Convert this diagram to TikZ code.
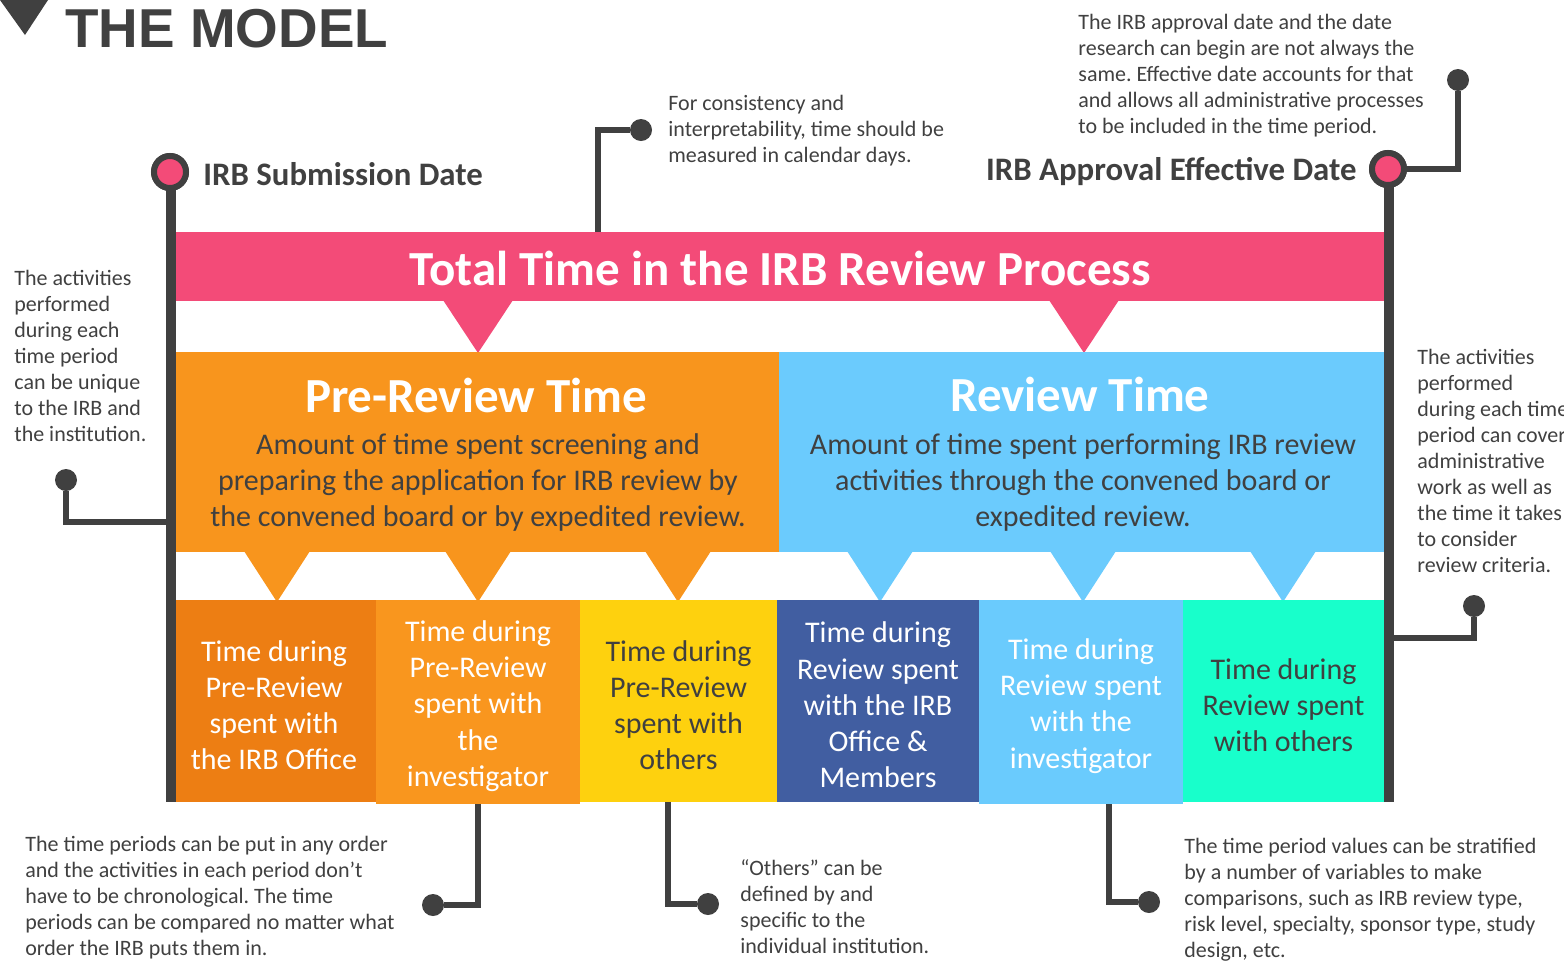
\documentclass[tikz,border=0pt]{standalone}
\usepackage{fontspec}
\setmainfont{Carlito}
\newfontfamily\titlefont{Liberation Sans}
\frenchspacing
\definecolor{dk}{HTML}{404040}
\definecolor{pinkc}{HTML}{F34B78}
\definecolor{orbig}{HTML}{F8951D}
\definecolor{blbig}{HTML}{6BCBFD}
\definecolor{cA}{HTML}{ED7E13}
\definecolor{cB}{HTML}{F9961E}
\definecolor{cC}{HTML}{FED10E}
\definecolor{cD}{HTML}{415EA1}
\definecolor{cE}{HTML}{6ACBFD}
\definecolor{cF}{HTML}{18FFCB}
\begin{document}
\begin{tikzpicture}[x=0.5pt,y=-0.5pt,
  conn/.style={draw=dk, line width=3pt},
  barline/.style={draw=dk, line width=5pt},
  dot/.style={circle, fill=dk, inner sep=0pt, minimum size=11pt},
  pin/.style={circle, draw=dk, line width=3pt, fill=pinkc, inner sep=0pt, minimum size=16pt},
  note/.style={anchor=north west, inner sep=0pt, align=left, text=dk, font=\fontsize{11}{13}\selectfont},
  smallbox/.style={rectangle, inner sep=0pt},
  boxtext/.style={inner sep=0pt, align=center, font=\fontsize{15}{18.1}\selectfont},
  bigbox/.style={rectangle, inner sep=0pt},
  heading/.style={text=white, font=\bfseries\fontsize{24.5}{30}\selectfont, inner sep=0pt},
  desc/.style={text=dk, align=center, inner sep=0pt, font=\fontsize{15}{18}\selectfont},
  datelabel/.style={text=dk, inner sep=0pt, font=\bfseries\fontsize{16.4}{19}\selectfont}
]
\useasboundingbox (0,0) rectangle (1564,960);

% title
\fill[dk] (0,0) -- (48,0) -- (25,35) -- cycle;
\node[anchor=base west, inner sep=0pt, text=dk, font=\titlefont\bfseries\fontsize{27.4}{30}\selectfont] (title) at (65,47) {THE MODEL};

% pins and bars
\node[pin] (pinL) at (170,172) {};
\node[pin] (pinR) at (1388,169) {};
\coordinate (barLend) at (171,802);
\coordinate (barRend) at (1389,802);
\coordinate (pinLs) at (171,172);
\coordinate (pinRs) at (1389,169);
\draw[barline] (pinLs) -- (barLend);
\draw[barline] (pinRs) -- (barRend);

% callout dots
\node[dot] (dotTM) at (641,130) {};
\node[dot] (dotTR) at (1458,80) {};
\node[dot] (dotL) at (66,480) {};
\node[dot] (dotR) at (1474,606) {};
\node[dot] (dotBL) at (433,905) {};
\node[dot] (dotBM) at (708,904) {};
\node[dot] (dotBR) at (1149,902) {};

\coordinate (jTM) at (598,233);
\coordinate (jL) at (171,522);
\coordinate (jR) at (1389,638);
\coordinate (jBL) at (478,802);
\coordinate (jBM) at (668,802);
\coordinate (jBR) at (1109,802);

\draw[conn] (jTM) |- (dotTM);
\draw[conn] (pinR) -| (dotTR);
\draw[conn] (jL) -| (dotL);
\draw[conn] (jR) -| (dotR);
\draw[conn] (jBL) |- (dotBL);
\draw[conn] (jBM) |- (dotBM);
\draw[conn] (jBR) |- (dotBR);
\node[pin] at (pinR) {};
\node[pin] at (pinL) {};

% pink band
\node[bigbox, fill=pinkc, minimum width=604pt, minimum height=34.5pt] (band) at (780,266.5) {};
\node[text=white, font=\bfseries\fontsize{24.5}{28}\selectfont, inner sep=0pt] (bandtxt) at (780,268) {Total Time in the IRB Review Process};
\foreach \cx in {478,1084} {
  \fill[pinkc] (\cx-35,300) -- (\cx+35,300) -- (\cx,353) -- cycle;
}

% big boxes
\node[bigbox, fill=orbig, minimum width=301.5pt, minimum height=100pt] (pre) at (477.5,452) {};
\node[bigbox, fill=blbig, minimum width=302.5pt, minimum height=100pt] (rev) at (1081.5,452) {};
\node[heading] (preh) at (476,395) {Pre-Review Time};
\node[heading] (revh) at (1080,394) {Review Time};
\node[desc] (pred) at (478,482) {Amount of time spent screening and\\preparing the application for IRB review by\\the convened board or by expedited review.};
\node[desc] (revd) at (1083,483) {Amount of time spent performing IRB review\\activities through the convened board or\\expedited review.};
\foreach \cx in {277,478,678} {
  \fill[orbig] (\cx-33,551) -- (\cx+33,551) -- (\cx,602) -- cycle;
}
\foreach \cx in {880,1083,1283} {
  \fill[blbig] (\cx-33,551) -- (\cx+33,551) -- (\cx,602) -- cycle;
}

% small boxes
\node[smallbox, fill=cA, minimum width=100pt, minimum height=101pt] (b1) at (276,701) {};
\node[smallbox, fill=cB, minimum width=102pt, minimum height=102pt] (b2) at (478,702) {};
\node[smallbox, fill=cC, minimum width=98.5pt, minimum height=101pt] (b3) at (678.5,701) {};
\node[smallbox, fill=cD, minimum width=101pt, minimum height=101pt] (b4) at (878,701) {};
\node[smallbox, fill=cE, minimum width=102pt, minimum height=102pt] (b5) at (1081,702) {};
\node[smallbox, fill=cF, minimum width=100.5pt, minimum height=101pt] (b6) at (1283.5,701) {};
\node[boxtext, text=white] (t1) at ([xshift=-1pt,yshift=-2pt]b1.center) {Time during\\Pre-Review\\spent with\\the IRB Office};
\node[boxtext, text=white] (t2) at ([yshift=-2pt]b2.center) {Time during\\Pre-Review\\spent with\\the\\investigator};
\node[boxtext, text=dk] (t3) at ([yshift=-2pt]b3.center) {Time during\\Pre-Review\\spent with\\others};
\node[boxtext, text=white] (t4) at ([yshift=-2pt]b4.center) {Time during\\Review spent\\with the IRB\\Office \&\\Members};
\node[boxtext, text=white] (t5) at ([yshift=-2pt]b5.center) {Time during\\Review spent\\with the\\investigator};
\node[boxtext, text=dk] (t6) at ([yshift=-2pt]b6.center) {Time during\\Review spent\\with others};

% date labels
\node[datelabel, anchor=west] (subm) at (203,174) {IRB Submission Date};
\node[datelabel, anchor=east] (appr) at (1357,172) {IRB Approval Effective Date};

% notes
\node[note] (nTM) at (668,95) {For consistency and\\interpretability, time should be\\measured in calendar days.};
\node[note] (nTR) at (1078,14) {The IRB approval date and the date\\research can begin are not always the\\same. Effective date accounts for that\\and allows all administrative processes\\to be included in the time period.};
\node[note] (nL) at (14,270) {The activities\\performed\\during each\\time period\\can be unique\\to the IRB and\\the institution.};
\node[note] (nR) at (1417,349) {The activities\\performed\\during each time\\period can cover\\administrative\\work as well as\\the time it takes\\to consider\\review criteria.};
\node[note] (nBL) at (25,836) {The time periods can be put in any order\\and the activities in each period don’t\\have to be chronological. The time\\periods can be compared no matter what\\order the IRB puts them in.};
\node[note] (nBM) at (740,859) {“Others” can be\\defined by and\\specific to the\\individual institution.};
\node[note] (nBR) at (1184,838) {The time period values can be stratified\\by a number of variables to make\\comparisons, such as IRB review type,\\risk level, specialty, sponsor type, study\\design, etc.};
\end{tikzpicture}
\end{document}
